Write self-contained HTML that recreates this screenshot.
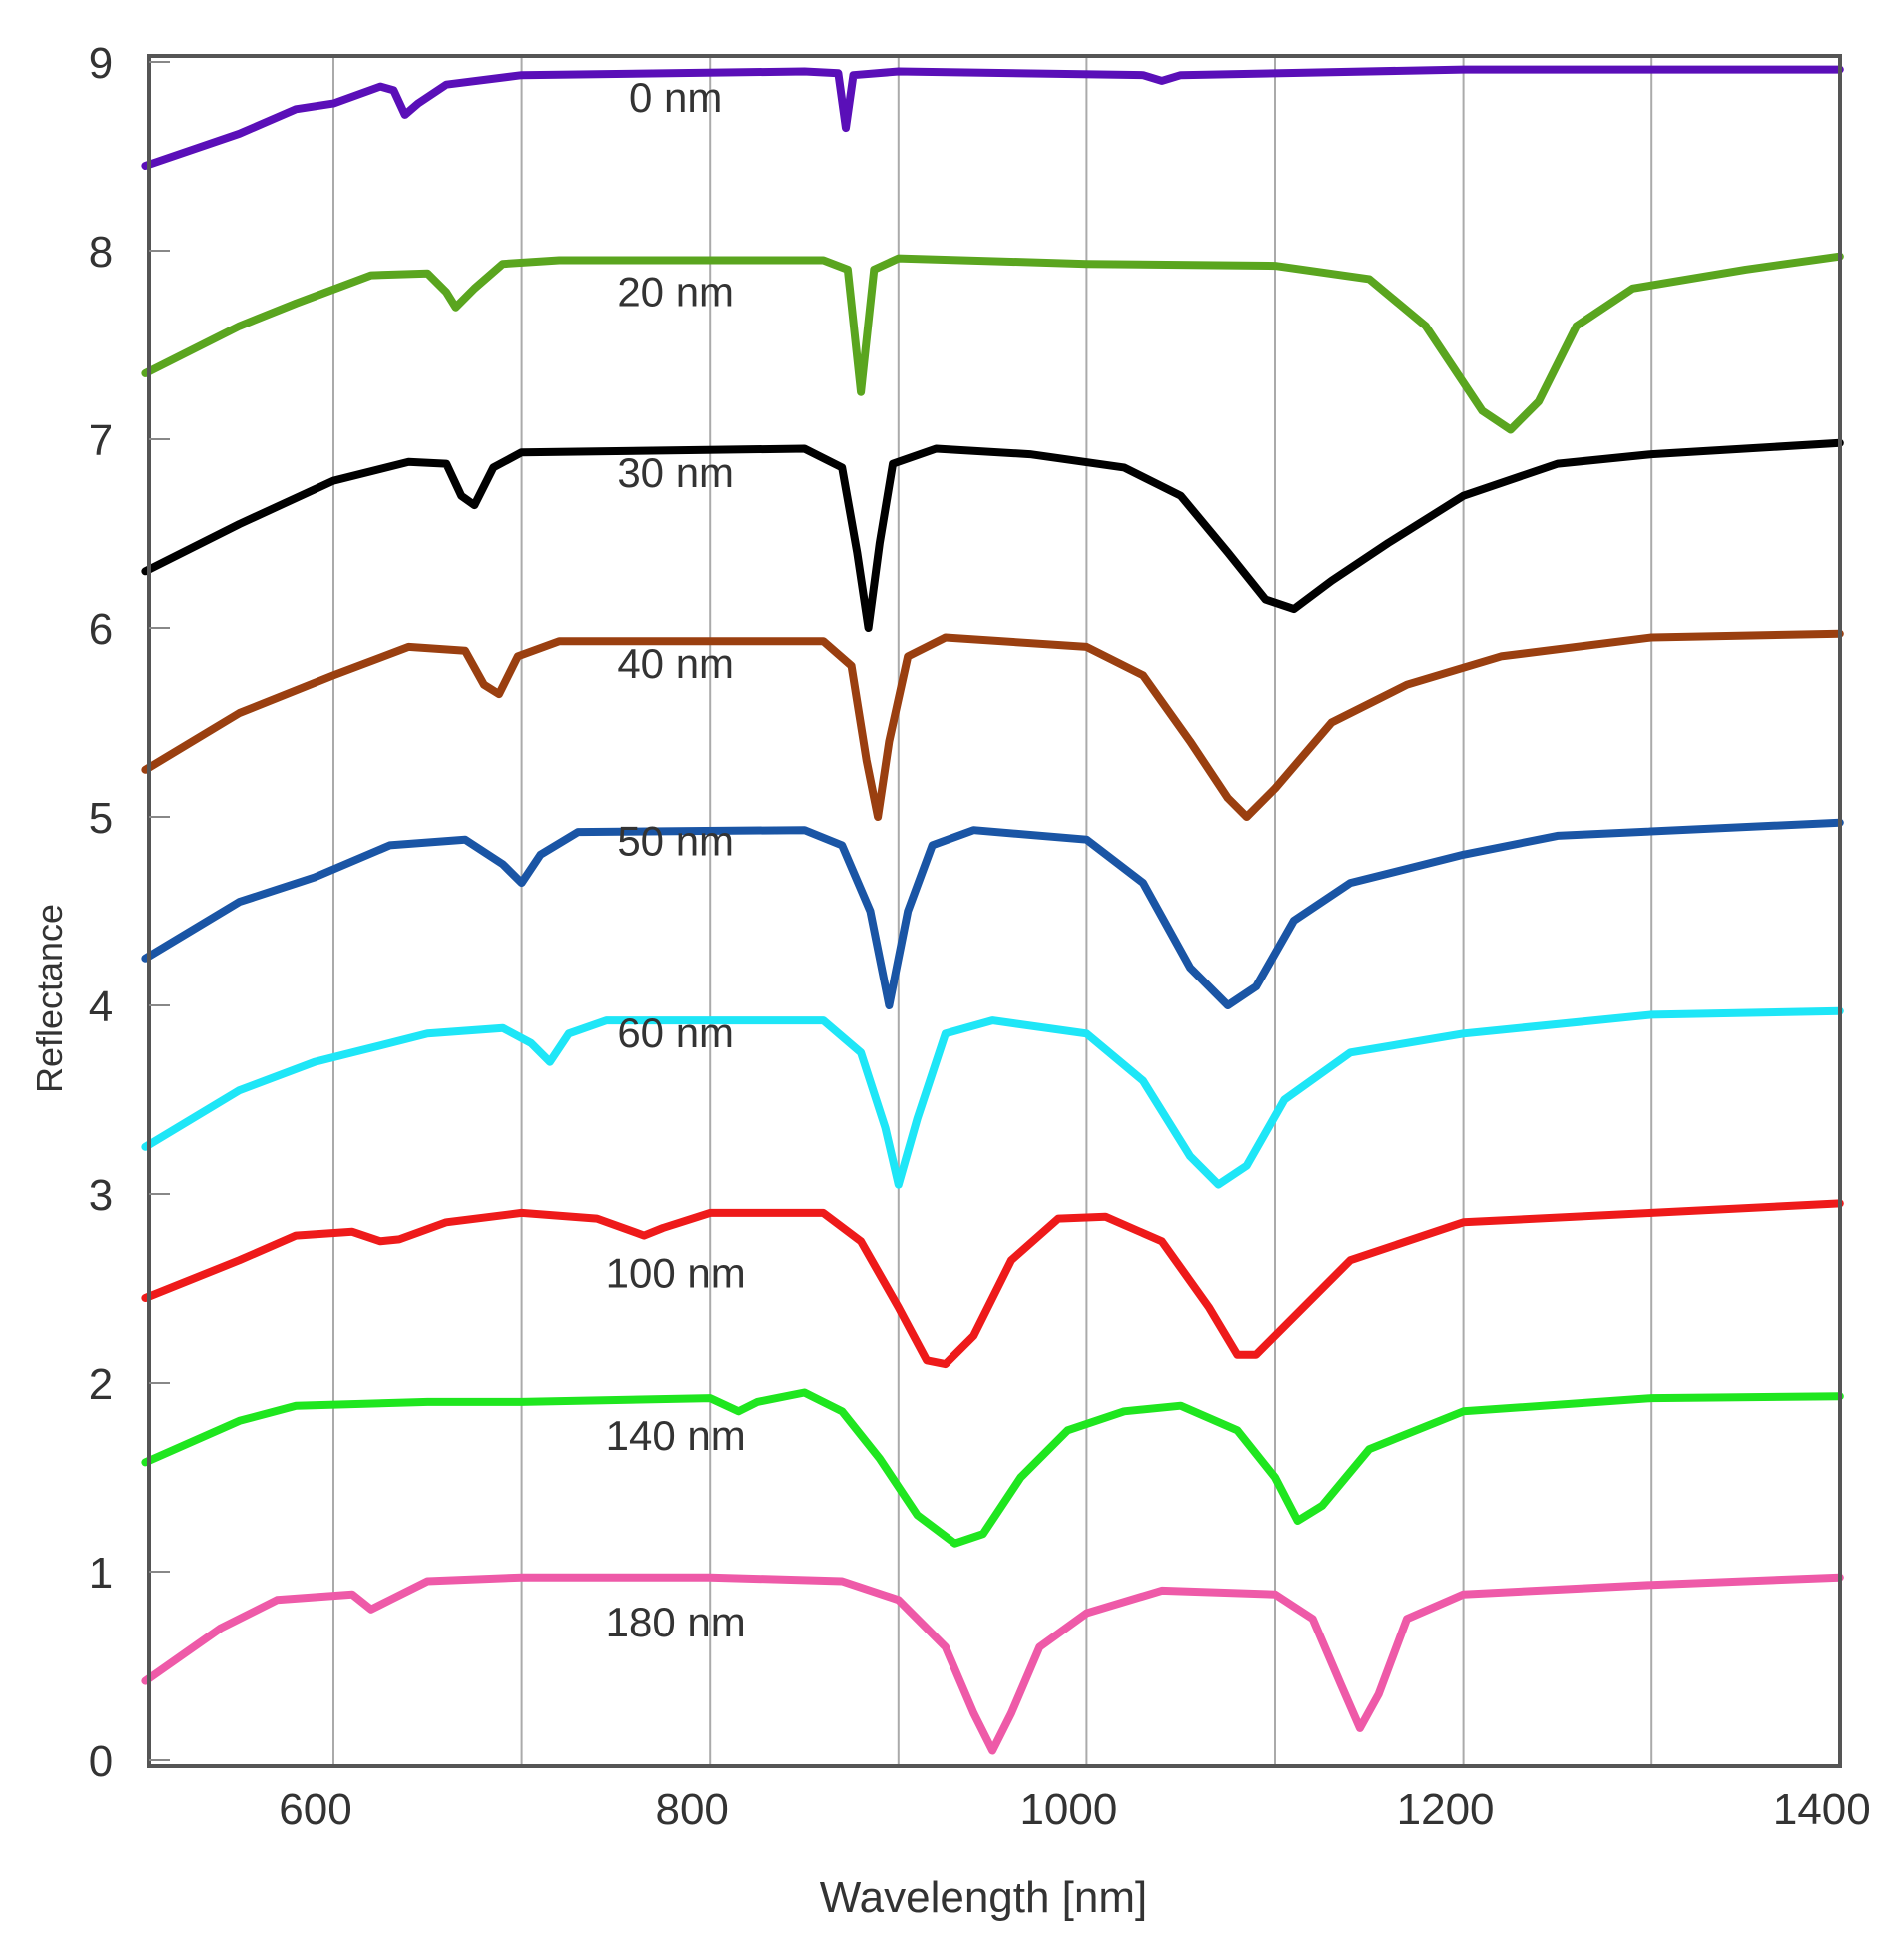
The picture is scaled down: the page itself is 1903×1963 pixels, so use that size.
<!DOCTYPE html>
<html>
<head>
<meta charset="utf-8">
<style>
html,body{margin:0;padding:0;background:#fff;}
svg{display:block;}
text{font-family:"Liberation Sans",sans-serif;fill:#333;}
</style>
</head>
<body>
<svg id="chart" width="1903" height="1963" viewBox="0 0 1903 1963" xmlns="http://www.w3.org/2000/svg">
  <g id="grid"></g>
  <g id="series"></g>
  <rect x="149" y="56" width="1694" height="1713" fill="none" stroke="#555" stroke-width="4"/>
  <g id="yticks"></g>
  <g id="xticks"></g>
  <g id="labels"></g>
  <text x="0" y="0" font-size="36" text-anchor="middle" transform="translate(62,1000) rotate(-90)">Reflectance</text>
  <text x="985" y="1915" font-size="44" text-anchor="middle">Wavelength [nm]</text>
</svg>
<script>
const seriesNames = ["0 nm","20 nm","30 nm","40 nm","50 nm","60 nm","100 nm","140 nm","180 nm"];
const seriesColors = ["#5a0fb8","#5aa51f","#000000","#9a3f10","#1a55a5","#1ee6f7","#ee1a1a","#1fe61f","#ee5aa8"];
const s0x = [500,550,580,600,625,632,638,645,660,700,850,868,872,876,900,1030,1040,1050,1200,1400];
const s0y = [8.45,8.62,8.75,8.78,8.87,8.85,8.72,8.78,8.88,8.93,8.95,8.94,8.65,8.93,8.95,8.93,8.90,8.93,8.96,8.96];
const s1x = [500,550,580,620,650,660,665,675,690,720,860,873,880,887,900,1000,1100,1150,1180,1210,1225,1240,1260,1290,1350,1400];
const s1y = [7.35,7.6,7.72,7.87,7.88,7.78,7.70,7.8,7.93,7.95,7.95,7.9,7.25,7.9,7.96,7.93,7.92,7.85,7.6,7.15,7.05,7.2,7.6,7.8,7.9,7.97];
const s2x = [500,550,600,640,660,668,675,685,700,850,870,878,884,890,897,920,970,1020,1050,1075,1095,1110,1130,1160,1200,1250,1300,1400];
const s2y = [6.3,6.55,6.78,6.88,6.87,6.7,6.65,6.85,6.93,6.95,6.85,6.4,6.0,6.45,6.87,6.95,6.92,6.85,6.7,6.4,6.15,6.1,6.25,6.45,6.7,6.87,6.92,6.98];
const s3x = [500,550,600,640,670,680,688,698,720,860,875,883,889,895,905,925,1000,1030,1055,1075,1085,1100,1130,1170,1220,1300,1400];
const s3y = [5.25,5.55,5.75,5.9,5.88,5.7,5.65,5.85,5.93,5.93,5.8,5.3,5.0,5.4,5.85,5.95,5.9,5.75,5.4,5.1,5.0,5.15,5.5,5.7,5.85,5.95,5.97];
const s4x = [500,550,590,630,670,690,700,710,730,850,870,885,895,905,918,940,1000,1030,1055,1075,1090,1110,1140,1200,1250,1400];
const s4y = [4.25,4.55,4.68,4.85,4.88,4.75,4.65,4.8,4.92,4.93,4.85,4.5,4.0,4.5,4.85,4.93,4.88,4.65,4.2,4.0,4.1,4.45,4.65,4.8,4.9,4.97];
const s5x = [500,550,590,610,650,690,705,715,725,745,860,880,893,900,910,925,950,1000,1030,1055,1070,1085,1105,1140,1200,1300,1400];
const s5y = [3.25,3.55,3.7,3.75,3.85,3.88,3.8,3.7,3.85,3.92,3.92,3.75,3.35,3.05,3.4,3.85,3.92,3.85,3.6,3.2,3.05,3.15,3.5,3.75,3.85,3.95,3.97];
const s6x = [500,550,580,610,625,635,660,700,740,765,775,800,860,880,900,915,925,940,960,985,1010,1040,1065,1080,1090,1110,1140,1200,1300,1400];
const s6y = [2.45,2.65,2.78,2.8,2.75,2.76,2.85,2.9,2.87,2.78,2.82,2.9,2.9,2.75,2.4,2.12,2.1,2.25,2.65,2.87,2.88,2.75,2.4,2.15,2.15,2.35,2.65,2.85,2.9,2.95];
const s7x = [500,550,580,650,700,800,815,825,850,870,890,910,930,945,965,990,1020,1050,1080,1100,1112,1125,1150,1200,1300,1400];
const s7y = [1.58,1.8,1.88,1.9,1.9,1.92,1.85,1.9,1.95,1.85,1.6,1.3,1.15,1.2,1.5,1.75,1.85,1.88,1.75,1.5,1.27,1.35,1.65,1.85,1.92,1.93];
const s8x = [500,540,570,610,620,630,650,700,800,870,900,925,940,950,960,975,1000,1040,1100,1120,1135,1145,1155,1170,1200,1300,1400];
const s8y = [0.42,0.7,0.85,0.88,0.8,0.85,0.95,0.97,0.97,0.95,0.85,0.6,0.25,0.05,0.25,0.6,0.78,0.9,0.88,0.75,0.4,0.17,0.35,0.75,0.88,0.93,0.97];
const seriesX = [s0x,s1x,s2x,s3x,s4x,s5x,s6x,s7x,s8x];
const seriesY = [s0y,s1y,s2y,s3y,s4y,s5y,s6y,s7y,s8y];
const labelWave = [787,787,787,787,787,787,787,787,787];
const labelVal = [8.8,7.77,6.81,5.8,4.86,3.84,2.57,1.71,0.72];
const xTicks = [600,800,1000,1200,1400];
const xGrid = [600,700,800,900,1000,1100,1200,1300];
const yTicks = [0,1,2,3,4,5,6,7,8,9];

const NS = "http://www.w3.org/2000/svg";
const xs = w => 334 + (w - 600) * 1.886;
const ys = v => 1763 - v * 189;

const grid = document.getElementById('grid');
xGrid.forEach(w => {
  const l = document.createElementNS(NS,'line');
  l.setAttribute('x1', xs(w)); l.setAttribute('x2', xs(w));
  l.setAttribute('y1', 56); l.setAttribute('y2', 1769);
  l.setAttribute('stroke', '#aaa'); l.setAttribute('stroke-width', '2');
  
  
  grid.appendChild(l);
});

const sg = document.getElementById('series');
seriesX.forEach((xarr, i) => {
  const pts = xarr.map((w, j) => xs(w).toFixed(1) + ',' + ys(seriesY[i][j]).toFixed(1)).join(' ');
  const p = document.createElementNS(NS,'polyline');
  p.setAttribute('points', pts);
  p.setAttribute('fill', 'none');
  p.setAttribute('stroke', seriesColors[i]);
  p.setAttribute('stroke-width', '8');
  p.setAttribute('stroke-linejoin', 'round');
  p.setAttribute('stroke-linecap', 'round');
  
  
  sg.appendChild(p);
});

const yt = document.getElementById('yticks');
yTicks.forEach(v => {
  const t = document.createElementNS(NS,'text');
  t.setAttribute('x', 101); t.setAttribute('y', ys(v) + 16);
  t.setAttribute('font-size', '44'); t.setAttribute('text-anchor', 'middle');
  t.textContent = v;
  
  
  yt.appendChild(t);
  const m = document.createElementNS(NS,'line');
  m.setAttribute('x1', 149); m.setAttribute('x2', 170);
  m.setAttribute('y1', ys(v)); m.setAttribute('y2', ys(v));
  m.setAttribute('stroke', '#888'); m.setAttribute('stroke-width', '2');
  
  
  yt.appendChild(m);
});

const xt = document.getElementById('xticks');
xTicks.forEach(w => {
  const t = document.createElementNS(NS,'text');
  t.setAttribute('x', xs(w) - 18); t.setAttribute('y', 1827);
  t.setAttribute('font-size', '44'); t.setAttribute('text-anchor', 'middle');
  t.textContent = w;
  
  
  xt.appendChild(t);
});

const lg = document.getElementById('labels');
seriesNames.forEach((n, i) => {
  const t = document.createElementNS(NS,'text');
  t.setAttribute('x', xs(labelWave[i]) - 10); t.setAttribute('y', ys(labelVal[i]) + 12);
  t.setAttribute('font-size', '42'); t.setAttribute('text-anchor', 'middle');
  t.textContent = n;
  
  
  lg.appendChild(t);
});
</script>
</body>
</html>
